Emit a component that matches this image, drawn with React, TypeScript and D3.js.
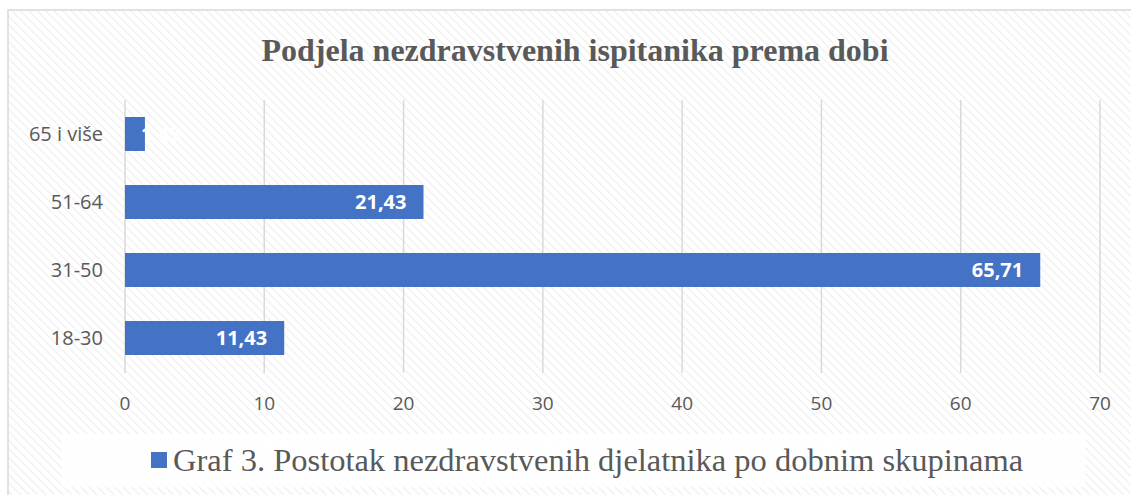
import React from "react";
import * as d3 from "d3";

const categories = ["65 i više", "51-64", "31-50", "18-30"];
const values = [1.43, 21.43, 65.71, 11.43];
const ticks = [0, 10, 20, 30, 40, 50, 60, 70];
const title = "Podjela nezdravstvenih ispitanika prema dobi";
const legendLabel = "Graf 3. Postotak nezdravstvenih djelatnika po dobnim skupinama";

const W = 1131;
const H = 495;

export default function App() {
  const x = d3.scaleLinear().domain([0, 70]).range([125, 1100]);
  const y = d3.scaleBand().domain(categories).range([100, 372]).paddingInner(0.5).paddingOuter(0.25);
  const fmt = (v: number) => v.toFixed(2).replace(".", ",");
  const blue = "#4472c4";
  const labelFont = "Open Sans";
  return (
    <svg width={W} height={H} style={{ position: "absolute", left: 0, top: 0 }}>
      <defs>
        <pattern id="hatch" width="6" height="6" patternUnits="userSpaceOnUse" patternTransform="rotate(-45)">
          <rect width="6" height="6" fill="#ffffff" />
          <line x1="0" y1="0" x2="0" y2="6" stroke="#efefef" strokeWidth="2.5" />
        </pattern>
      </defs>
      <rect x={0} y={0} width={W} height={H} fill="#fff" />
      <rect x={8} y={10} width={W} height={H} fill="url(#hatch)" stroke="#d9d9d9" strokeWidth={1.5} />
      <text x={575} y={61} textAnchor="middle" fontFamily="Liberation Serif" fontWeight="bold" fontSize={32} fill="#595959">
        {title}
      </text>
      {ticks.map((t) => (
        <line key={"g" + t} x1={x(t)} x2={x(t)} y1={100} y2={373} stroke="#d9d9d9" strokeWidth={1.5} />
      ))}
      {categories.map((c, i) => {
        const cy = y(c)! + y.bandwidth() / 2;
        const w = x(values[i]) - x(0);
        const fits = w > 70;
        return (
          <g key={c}>
            <rect x={x(0)} y={y(c)!} width={w} height={y.bandwidth()} fill={blue} />
            <text
              x={fits ? x(values[i]) - 17 : x(values[i]) - 4}
              y={cy + 7}
              textAnchor={fits ? "end" : "start"}
              fontFamily={labelFont}
              fontWeight="bold"
              fontSize={20}
              fill="#ffffff"
            >
              {fmt(values[i])}
            </text>
            <text x={103} y={cy + 7} textAnchor="end" fontFamily={labelFont} fontSize={20} fill="#595959">
              {c}
            </text>
          </g>
        );
      })}
      {ticks.map((t) => (
        <text key={"t" + t} x={x(t)} y={410} textAnchor="middle" fontFamily={labelFont} fontSize={19} fill="#595959">
          {t}
        </text>
      ))}
      <rect x={62} y={434} width={1023} height={53} fill="#ffffff" opacity={0.85} />
      <rect x={151} y={452} width={16} height={16} fill={blue} />
      <text x={173} y={471} fontFamily="Liberation Serif" fontSize={32.5} fill="#595959">
        {legendLabel}
      </text>
    </svg>
  );
}
